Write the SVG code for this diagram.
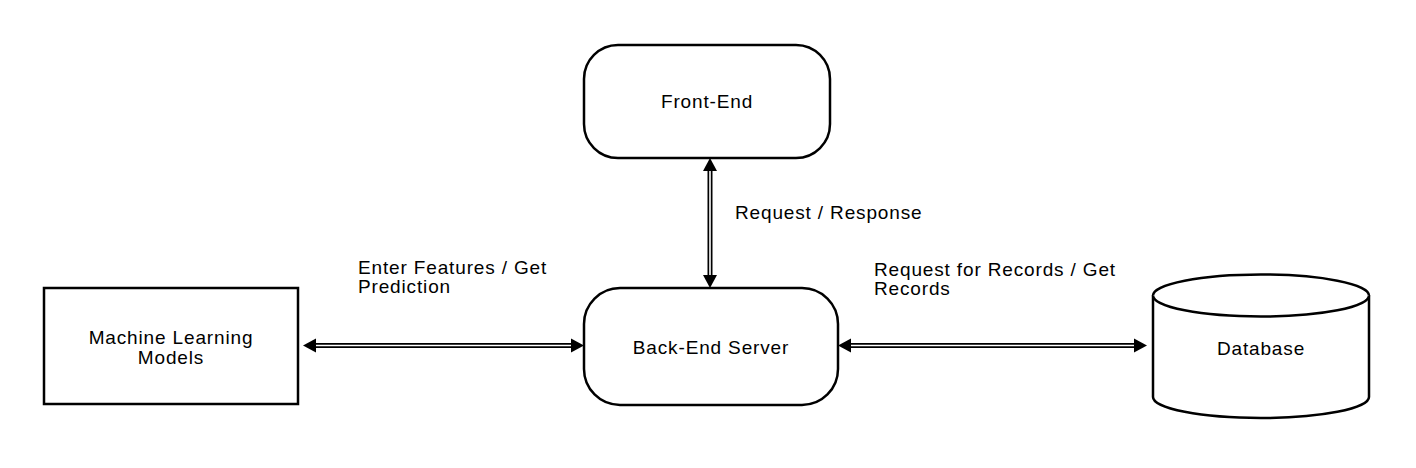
<svg xmlns="http://www.w3.org/2000/svg" width="1416" height="468" viewBox="0 0 1416 468">
<style>
.node{fill:#fff;stroke:#000;stroke-width:2.5}
.t{font-family:"Liberation Sans",Arial,sans-serif;font-size:19px;letter-spacing:0.85px;fill:#000}
.c{text-anchor:middle}
.outer{stroke:#000;stroke-width:5;fill:none}
.inner{stroke:#fff;stroke-width:1.6;fill:none}
.head{fill:#000}
</style>
<rect width="1416" height="468" fill="#fff"/>
<g id="connectors">
  <g id="fe-be">
    <line class="outer" x1="710" y1="168" x2="710" y2="278"/>
    <line class="inner" x1="710" y1="168" x2="710" y2="278"/>
    <polygon class="head" points="710,158 703,171 717,171"/>
    <polygon class="head" points="710,288 703,275 717,275"/>
  </g>
  <g id="ml-be">
    <line class="outer" x1="313" y1="345.5" x2="573" y2="345.5"/>
    <line class="inner" x1="313" y1="345.5" x2="573" y2="345.5"/>
    <polygon class="head" points="303,345.5 316,338.5 316,352.5"/>
    <polygon class="head" points="584,345.5 571,338.5 571,352.5"/>
  </g>
  <g id="be-db">
    <line class="outer" x1="848" y1="345.5" x2="1137" y2="345.5"/>
    <line class="inner" x1="848" y1="345.5" x2="1137" y2="345.5"/>
    <polygon class="head" points="838,345.5 851,338.5 851,352.5"/>
    <polygon class="head" points="1147,345.5 1134,338.5 1134,352.5"/>
  </g>
  <text class="t" x="735" y="219">Request / Response</text>
  <text class="t" x="358" y="274">Enter Features / Get</text>
  <text class="t" x="358" y="293">Prediction</text>
  <text class="t" x="874" y="276">Request for Records / Get</text>
  <text class="t" x="874" y="295">Records</text>
</g>
<g id="front-end">
  <rect class="node" x="584" y="45" width="246" height="113" rx="34" ry="34"/>
  <text class="t c" x="707" y="108">Front-End</text>
</g>
<g id="back-end">
  <rect class="node" x="584" y="288" width="254" height="117" rx="36" ry="36"/>
  <text class="t c" x="711" y="354">Back-End Server</text>
</g>
<g id="ml">
  <rect class="node" x="44" y="288" width="254" height="116"/>
  <text class="t c" x="171" y="344">Machine Learning</text>
  <text class="t c" x="171" y="364">Models</text>
</g>
<g id="database">
  <path class="node" d="M1153,295.5 L1153,397 A108,21 0 0 0 1369,397 L1369,295.5 A108,21 0 0 0 1153,295.5 Z"/>
  <path class="node" d="M1153,295.5 A108,21 0 0 0 1369,295.5" fill="none"/>
  <text class="t c" x="1261" y="355">Database</text>
</g>
</svg>
